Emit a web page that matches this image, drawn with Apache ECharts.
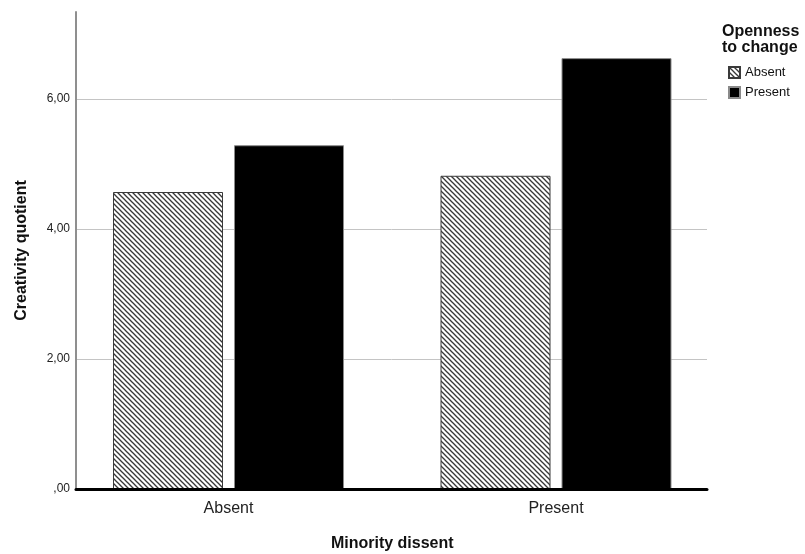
<!DOCTYPE html>
<html>
<head>
<meta charset="utf-8">
<script src="https://cdn.jsdelivr.net/npm/echarts@6/dist/echarts.min.js"></script>
<style>html,body{margin:0;padding:0;background:#fff}#c{width:805px;height:554px}</style>
</head>
<body>
<div id="c"></div>
<script>
var categories = ['Absent', 'Present'];
var seriesNames = ['Absent', 'Present'];
var absentValues = [4.57, 4.82];
var presentValues = [5.29, 6.63];
var yTicks = [0, 2, 4, 6];

function makeHatch() {
  var p = 5;
  var cv = document.createElement('canvas');
  cv.width = p; cv.height = p;
  var ctx = cv.getContext('2d');
  ctx.fillStyle = '#ffffff';
  ctx.fillRect(0, 0, p, p);
  ctx.strokeStyle = '#383838';
  ctx.lineWidth = 1.3;
  for (var k = -1; k <= 1; k++) {
    ctx.beginPath();
    ctx.moveTo(k * p - 1, -1);
    ctx.lineTo(k * p + p + 1, p + 1);
    ctx.stroke();
  }
  return { image: cv, repeat: 'repeat' };
}
var hatch = makeHatch();

var font = 'Liberation Sans, Arial, sans-serif';
var chart = echarts.init(document.getElementById('c'), null, { renderer: 'canvas' });
var yMax = 7.34;
chart.setOption({
  animation: false,
  backgroundColor: '#ffffff',
  title: {
    text: 'Openness\nto change',
    left: 717, top: 19,
    textStyle: { fontFamily: font, fontWeight: 'bold', fontSize: 16, lineHeight: 16, color: '#111' }
  },
  legend: {
    orient: 'vertical',
    left: 723, top: 61,
    itemWidth: 11, itemHeight: 11, itemGap: 7,
    icon: 'rect',
    textStyle: { fontFamily: font, fontSize: 13, color: '#111' },
    data: seriesNames
  },
  grid: [
    { left: 76, right: 98, top: 12, bottom: 65, outerBoundsMode: 'none', containLabel: false },
    { left: 64.75, right: 85.25, top: 12, bottom: 65, outerBoundsMode: 'none', containLabel: false }
  ],
  xAxis: [
    {
      gridIndex: 0, type: 'category', data: categories, z: 5,
      axisLine: { lineStyle: { color: '#000', width: 3 } },
      axisTick: { show: false }, axisLabel: { show: false }, splitLine: { show: false }
    },
    {
      gridIndex: 1, type: 'category', data: categories,
      axisLine: { show: false }, axisTick: { show: false },
      axisLabel: { fontFamily: font, fontSize: 16, color: '#222', margin: 12 },
      name: 'Minority dissent', nameLocation: 'middle', nameGap: 47,
      nameTextStyle: { fontFamily: font, fontWeight: 'bold', fontSize: 16, color: '#111' }
    }
  ],
  yAxis: [
    {
      gridIndex: 0, type: 'value', min: 0, max: yMax, interval: 2,
      axisLine: { show: true, lineStyle: { color: '#8f8f8f', width: 2 } },
      axisTick: { show: false },
      axisLabel: {
        fontFamily: font, fontSize: 12, color: '#222', margin: 6, showMaxLabel: false,
        formatter: function (v) {
          if (yTicks.indexOf(v) < 0) return '';
          return v === 0 ? ',00' : v.toFixed(2).replace('.', ',');
        }
      },
      splitLine: { show: true, showMaxLine: false, lineStyle: { color: '#c4c4c4', width: 1 } },
      name: 'Creativity quotient', nameLocation: 'middle', nameGap: 46,
      nameTextStyle: { fontFamily: font, fontWeight: 'bold', fontSize: 16, color: '#111' }
    },
    {
      gridIndex: 1, type: 'value', min: 0, max: yMax, show: false, splitLine: { show: false }
    }
  ],
  series: [
    {
      name: seriesNames[0], type: 'bar', xAxisIndex: 1, yAxisIndex: 1,
      data: absentValues, barWidth: 110, barGap: '10%',
      itemStyle: { color: hatch, borderColor: '#3a3a3a', borderWidth: 1 }
    },
    {
      name: seriesNames[1], type: 'bar', xAxisIndex: 1, yAxisIndex: 1,
      data: presentValues, barWidth: 110, barGap: '10%',
      itemStyle: { color: '#000', borderColor: '#8a8a8a', borderWidth: 1 }
    }
  ]
});
</script>
</body>
</html>
